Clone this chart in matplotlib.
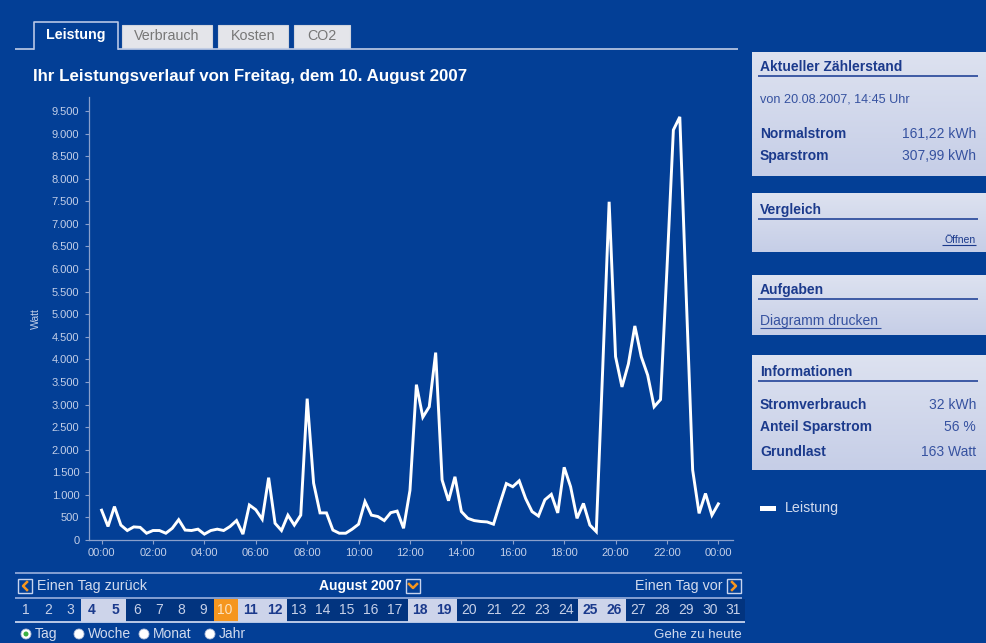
import matplotlib
matplotlib.use("Agg")
import matplotlib.pyplot as plt
from matplotlib.patches import Rectangle, Circle
from matplotlib.colors import to_rgb
import numpy as np

plt.rcParams['font.family'] = ['Liberation Sans', 'DejaVu Sans']

# ---------------- data ----------------
times_h = [i * 0.25 for i in range(97)]  # 15-minute steps 00:00 .. 24:00
leistung_watt = [
    660, 300, 740, 330, 210, 290, 280, 150,      # 00:00-01:45
    210, 210, 150, 260, 450, 220, 210, 240,      # 02:00-03:45
    130, 210, 240, 210, 300, 430, 130, 775,      # 04:00-05:45
    670, 460, 1380, 370, 210, 550, 330, 550,     # 06:00-07:45
    3130, 1260, 600, 600, 220, 150, 150, 240,    # 08:00-09:45
    350, 850, 550, 520, 430, 605, 640, 260,      # 10:00-11:45
    1100, 3440, 2720, 2950, 4150, 1330, 870, 1400,  # 12:00-13:45
    630, 480, 430, 410, 400, 350, 810, 1250,     # 14:00-15:45
    1180, 1310, 920, 630, 530, 890, 1010, 600,   # 16:00-17:45
    1610, 1180, 480, 810, 330, 185, 3800, 7490,  # 18:00-19:45
    4060, 3390, 3900, 4740, 4060, 3650, 2950, 3110,  # 20:00-21:45
    6000, 9080, 9370, 5400, 1550, 590, 1030, 550,    # 22:00-23:45
    800,                                          # 24:00
]
x_tick_pos = list(range(0, 25, 2))
x_tick_labels = ['00:00', '02:00', '04:00', '06:00', '08:00', '10:00', '12:00',
                 '14:00', '16:00', '18:00', '20:00', '22:00', '00:00']
y_tick_pos = list(range(0, 9501, 500))
y_tick_labels = ['0', '500', '1.000', '1.500', '2.000', '2.500', '3.000', '3.500',
                 '4.000', '4.500', '5.000', '5.500', '6.000', '6.500', '7.000',
                 '7.500', '8.000', '8.500', '9.000', '9.500']

tabs = ['Leistung', 'Verbrauch', 'Kosten', 'CO2']
title = 'Ihr Leistungsverlauf von Freitag, dem 10. August 2007'
days = list(range(1, 32))
weekend_days = [4, 5, 11, 12, 18, 19, 25, 26]
selected_day = 10

# ---------------- style ----------------
BG = '#033f96'
DARK = '#02347f'
NAVY = '#1b3a8c'
MIDBLUE = '#3652a0'
LIGHT = '#d2dbee'
TICKC = '#c3cfe8'
SPINE = '#8aa0cc'
ORANGE = '#f5961f'

W, H = 986, 643
fig = plt.figure(figsize=(W / 100, H / 100), dpi=100)
fig.patch.set_facecolor(BG)

ov = fig.add_axes([0, 0, 1, 1], zorder=0)
ov.axis('off')

def txt(x, y, s, size=10, color=LIGHT, weight='normal', ha='left', va='center', **kw):
    ov.text(x, y, s, fontsize=size, color=color, fontweight=weight, ha=ha, va=va, **kw)

def hline(x0, x1, y, color, lw=1.0):
    ov.plot([x0, x1], [y, y], color=color, lw=lw, solid_capstyle='butt')

# ---------------- tabs ----------------
tab_x = [(34, 118), (122, 212), (218, 288), (294, 350)]
hline(15, 34, 48.5, '#c0cce6', 1.2)
hline(118, 738, 48.5, '#c0cce6', 1.2)
for i, (name, (x0, x1)) in enumerate(zip(tabs, tab_x)):
    if i == 0:
        ov.plot([x0, x0, x1, x1], [48.5, 22, 22, 48.5], color='#b8c6e6', lw=1.2)
        txt((x0 + x1) / 2, 35, name, size=10.3, color='white', weight='bold', ha='center')
    else:
        ov.add_patch(Rectangle((x0, 25), x1 - x0, 23, facecolor='#e4e5ea', edgecolor='#d0d4de', lw=0.8))
        txt((x0 + x1) / 2, 36, name, size=10.3, color='#777777', ha='center')

txt(33, 76, title, size=12.2, color='white', weight='bold')

# ---------------- right panels ----------------
top_c = np.array(to_rgb('#dde2f0'))
bot_c = np.array(to_rgb('#c6cee7'))

def panel(y0, y1, head, hy):
    n = 64
    f = np.linspace(0, 1, n)[:, None, None]
    grad = top_c[None, None, :] * (1 - f) + bot_c[None, None, :] * f
    ov.imshow(grad, extent=[752, W, y1, y0], aspect='auto', origin='upper',
              interpolation='bilinear', zorder=0)
    txt(760, hy, head, size=10, color=NAVY, weight='bold')
    hline(758, 978, hy + 9, '#3d5aa5', 1.4)

panel(52, 176, 'Aktueller Zählerstand', 67)
txt(760, 99, 'von 20.08.2007, 14:45 Uhr', size=9.1, color=MIDBLUE)
txt(760, 134, 'Normalstrom', size=10, color=NAVY, weight='bold')
txt(976, 134, '161,22 kWh', size=10, color=MIDBLUE, ha='right')
txt(760, 156, 'Sparstrom', size=10, color=NAVY, weight='bold')
txt(976, 156, '307,99 kWh', size=10, color=MIDBLUE, ha='right')

panel(193, 252, 'Vergleich', 210)
txt(976, 240, 'Öffnen', size=7.5, color=NAVY, ha='right')
hline(942, 976, 245, NAVY, 0.8)

panel(275, 335, 'Aufgaben', 290)
txt(760, 321, 'Diagramm drucken', size=10, color=MIDBLUE)
hline(760, 881, 328, MIDBLUE, 0.8)

panel(355, 470, 'Informationen', 372)
for yy, a, b in [(405, 'Stromverbrauch', '32 kWh'), (427, 'Anteil Sparstrom', '56 %'),
                 (452, 'Grundlast', '163 Watt')]:
    txt(760, yy, a, size=10, color=NAVY, weight='bold')
    txt(976, yy, b, size=10, color=MIDBLUE, ha='right')

# legend
ov.add_patch(Rectangle((760, 505.5), 16, 5, facecolor='white', edgecolor='none'))
txt(785, 508, 'Leistung', size=10.3, color=LIGHT)

# ---------------- bottom navigation ----------------
hline(15, 742, 572.5, '#8fa8d8', 1.3)
def box(x0, y0, kind):
    ov.add_patch(Rectangle((x0, y0), 14, 14, facecolor='none', edgecolor='#c8d4ee', lw=1.0))
    cx, cy = x0 + 7, y0 + 7
    if kind == 'left':
        ov.plot([cx + 2, cx - 2, cx + 2], [cy - 4, cy, cy + 4], color=ORANGE, lw=1.8)
    elif kind == 'right':
        ov.plot([cx - 2, cx + 2, cx - 2], [cy - 4, cy, cy + 4], color=ORANGE, lw=1.8)
    else:
        ov.plot([cx - 4, cx, cx + 4], [cy - 2, cy + 2, cy - 2], color=ORANGE, lw=1.8)

box(18, 579, 'left')
txt(37, 586, 'Einen Tag zurück', size=10.3, color=LIGHT)
txt(402, 586, 'August 2007', size=10, color='white', weight='bold', ha='right')
box(406, 579, 'down')
txt(723, 586, 'Einen Tag vor', size=10.3, color=LIGHT, ha='right')
box(727, 579, 'right')
hline(15, 742, 597.5, '#8fa8d8', 1.3)

centers = [26, 48, 70, 92, 115, 137, 159, 181, 203, 225, 250, 275, 299, 323, 347, 371,
           395, 420, 444, 469, 494, 518, 542, 566, 590, 614, 638, 662, 686, 710, 733]
edges = [15] + [(centers[i] + centers[i + 1]) / 2 for i in range(len(centers) - 1)] + [745]
for i, d in enumerate(days):
    x0, x1 = edges[i], edges[i + 1]
    if d == selected_day:
        ov.add_patch(Rectangle((x0, 598.5), x1 - x0, 23, facecolor=ORANGE, edgecolor='none'))
        txt(centers[i], 610, str(d), size=10, color='#fde3c0', ha='center')
    elif d in weekend_days:
        ov.add_patch(Rectangle((x0, 598.5), x1 - x0, 23, facecolor='#cdd4ea', edgecolor='none'))
        txt(centers[i], 610, str(d), size=10, color=NAVY, weight='bold', ha='center')
    else:
        if d > 5:
            ov.add_patch(Rectangle((x0, 598.5), x1 - x0, 23, facecolor=DARK, edgecolor='none'))
        txt(centers[i], 610, str(d), size=10, color='#c6d0e8', ha='center')
hline(15, 745, 622, '#c8d4ee', 1.3)

radios = [(26, 'Tag', True), (79, 'Woche', False), (144, 'Monat', False), (210, 'Jahr', False)]
for cx, lab, sel in radios:
    ov.add_patch(Circle((cx, 634), 5.0, facecolor='white', edgecolor='#b0bcd8', lw=0.6))
    if sel:
        ov.add_patch(Circle((cx, 634), 2.5, facecolor='#3cb043', edgecolor='none'))
    txt(cx + 9, 634, lab, size=10, color=LIGHT)
txt(742, 635, 'Gehe zu heute', size=9.6, color=LIGHT, ha='right')

ov.set_xlim(0, W)
ov.set_ylim(H, 0)

# ---------------- chart ----------------
ax_l, ax_r, ax_t, ax_b = 89, 733, 97, 540
ax = fig.add_axes([ax_l / W, 1 - ax_b / H, (ax_r - ax_l) / W, (ax_b - ax_t) / H], zorder=2)
ax.set_facecolor('none')
ax.plot(times_h, leistung_watt, color='white', lw=2.1, solid_joinstyle='miter')
ax.set_xlim(-0.49, 24.57)
ax.set_ylim(0, 9810)
ax.set_xticks(x_tick_pos)
ax.set_xticklabels(x_tick_labels)
ax.set_yticks(y_tick_pos)
ax.set_yticklabels(y_tick_labels)
for s in ['top', 'right']:
    ax.spines[s].set_visible(False)
for s in ['left', 'bottom']:
    ax.spines[s].set_color(SPINE)
    ax.spines[s].set_linewidth(0.9)
ax.tick_params(axis='both', colors=SPINE, labelcolor=TICKC, labelsize=8, length=3, width=0.8)
ax.tick_params(axis='y', pad=4)
ax.tick_params(axis='x', pad=3)
ax.set_ylabel('Watt', color=TICKC, fontsize=7.5, labelpad=8)

fig.savefig('out.png', dpi=100, facecolor=BG)
